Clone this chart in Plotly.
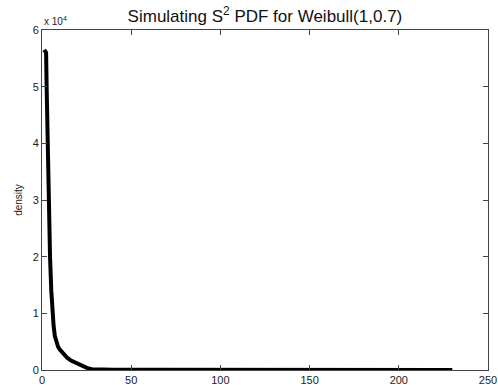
import plotly.graph_objects as go

# Values (density in units of 10^4)
s2_values = [1.2, 2.3, 2.6, 3.0, 3.4, 3.8, 4.5, 5.2, 5.8, 6.5, 7.2, 8.0, 9.0, 10, 12, 14, 16, 18, 20, 22, 24, 26, 28, 32, 40, 60, 100, 150, 172, 200, 227, 230]
density_e4 = [5.65, 5.6, 5.0, 4.3, 3.5, 2.9, 2.0, 1.4, 1.0, 0.78, 0.6, 0.48, 0.41, 0.36, 0.28, 0.22, 0.17, 0.14, 0.11, 0.08, 0.05, 0.025, 0.012, 0.006, 0.004, 0.003, 0.001, 0.0005, 0.004, 0.0004, 0.004, 0.0002]
x_ticks = [0, 50, 100, 150, 200, 250]
y_ticks = [0, 1, 2, 3, 4, 5, 6]

fig = go.Figure()
fig.add_trace(go.Scatter(x=s2_values, y=density_e4, mode="lines",
                         line=dict(color="black", width=4),
                         showlegend=False))

axis_common = dict(showline=True, linecolor="#444", linewidth=1, mirror="ticks",
                   ticks="inside", ticklen=5, tickcolor="#444", showgrid=False,
                   zeroline=False, tickfont=dict(family="Arial", size=11, color="#222"),
                   automargin=False)

fig.update_xaxes(range=[0, 250], tickvals=x_ticks, **axis_common)
fig.update_yaxes(range=[0, 6], tickvals=y_ticks,
                 title=dict(text="density", font=dict(family="Arial", size=10, color="#222"), standoff=8),
                 **axis_common)

fig.update_layout(
    width=498, height=385,
    margin=dict(l=42, r=10, t=30, b=15),
    paper_bgcolor="white", plot_bgcolor="white",
    title=dict(text="Simulating S<sup>2</sup> PDF for Weibull(1,0.7)",
               font=dict(family="Arial", size=17, color="#111"),
               x=0.532, xanchor="center", y=0.958, yanchor="middle"),
    annotations=[dict(text="x 10<sup>4</sup>", xref="paper", yref="paper", x=0, y=1,
                      xanchor="left", yanchor="bottom", showarrow=False, yshift=1,
                      font=dict(family="Arial", size=10, color="#222"))],
)

fig.write_html("out.html")
